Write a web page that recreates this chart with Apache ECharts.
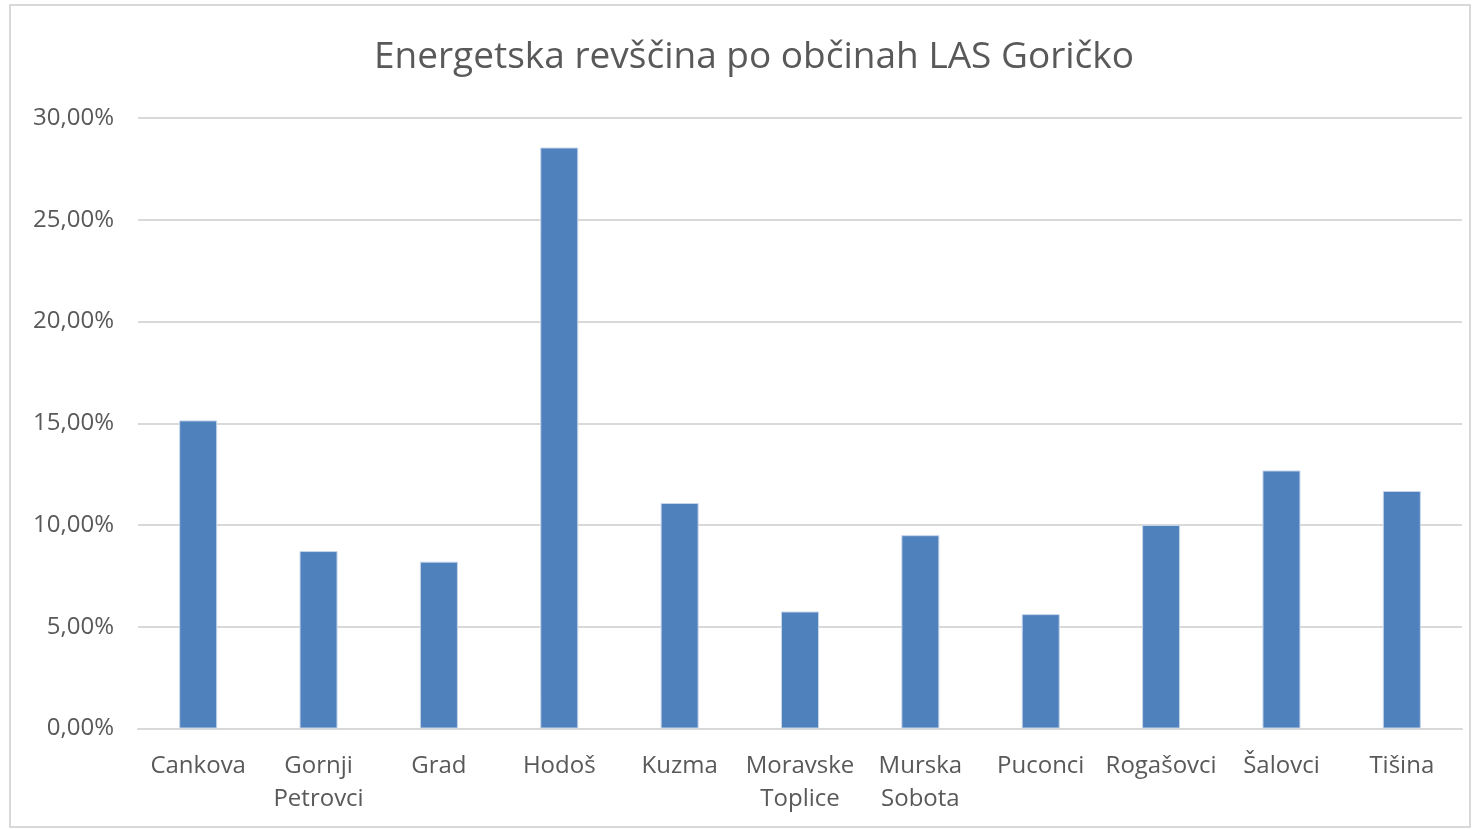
<!DOCTYPE html>
<html>
<head>
<meta charset="utf-8">
<script src="https://cdn.jsdelivr.net/npm/echarts@6/dist/echarts.min.js"></script>
<style>html,body{margin:0;padding:0;background:#fff;}#c{width:1473px;height:830px;}</style>
</head>
<body>
<div id="c"></div>
<script>
const title = 'Energetska revščina po občinah LAS Goričko';
const categories = ['Cankova', 'Gornji\nPetrovci', 'Grad', 'Hodoš', 'Kuzma', 'Moravske\nToplice', 'Murska\nSobota', 'Puconci', 'Rogašovci', 'Šalovci', 'Tišina'];
const values = [15.14, 8.72, 8.20, 28.55, 11.08, 5.75, 9.50, 5.62, 10.00, 12.68, 11.67];
const yTicks = { min: 0, max: 30, interval: 5 };

const chart = echarts.init(document.getElementById('c'), null, { renderer: 'canvas' });
const txt = '#595959';
chart.setOption({
  backgroundColor: '#fff',
  animation: false,
  title: {
    text: title, left: 749, top: 34, textAlign: 'center',
    textStyle: { fontFamily: 'Open Sans', fontSize: 37, fontWeight: 'normal', color: txt }
  },
  graphic: [{
    type: 'rect', shape: { x: 10, y: 5, width: 1460, height: 822 },
    style: { fill: 'none', stroke: '#d9d9d9', lineWidth: 2 }, silent: true, z: -1
  }],
  grid: { left: 138, right: 11, top: 118, bottom: 101.5, containLabel: false },
  xAxis: {
    type: 'category', data: categories,
    axisLine: { show: true, lineStyle: { color: '#d9d9d9', width: 2 } },
    axisTick: { show: false },
    axisLabel: { interval: 0, margin: 21, color: txt, fontFamily: 'Open Sans', fontSize: 24, lineHeight: 33 }
  },
  yAxis: {
    type: 'value', min: yTicks.min, max: yTicks.max, interval: yTicks.interval,
    axisLine: { show: false }, axisTick: { show: false },
    splitLine: { lineStyle: { color: '#d9d9d9', width: 2 } },
    axisLabel: {
      margin: 24, color: txt, fontFamily: 'Open Sans', fontSize: 24,
      formatter: v => v.toFixed(2).replace('.', ',') + '%'
    }
  },
  series: [{
    type: 'bar', data: values, barWidth: 38,
    itemStyle: { color: '#4f81bd', borderColor: '#c6d5ea', borderWidth: 1 }
  }]
});
</script>
</body>
</html>
